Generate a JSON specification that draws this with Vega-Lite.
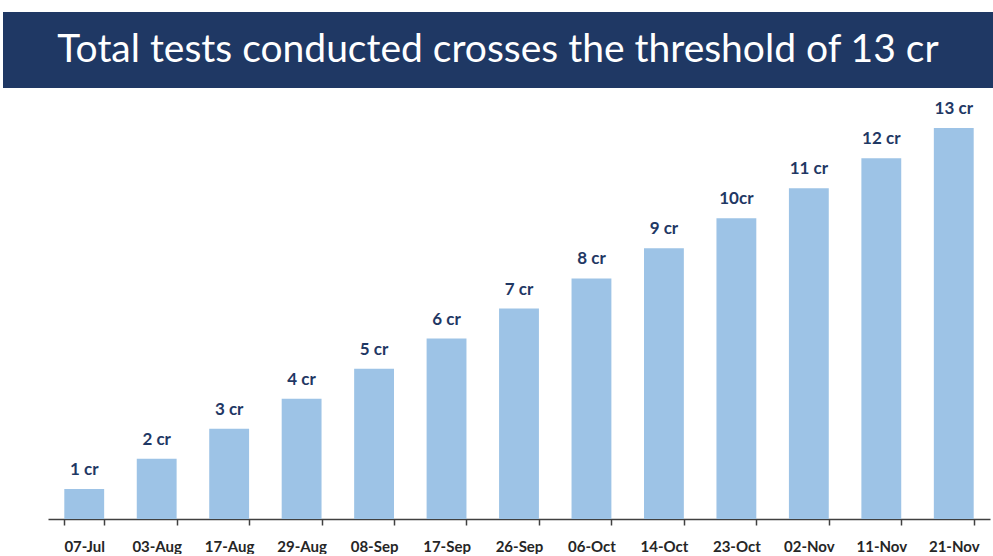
{
  "$schema": "https://vega.github.io/schema/vega-lite/v6.json",
  "padding": {"left": 3, "top": 12, "right": 0, "bottom": 0},
  "background": "white",
  "spacing": 10,
  "config": {"view": {"stroke": null}},
  "vconcat": [
    {
      "width": 990,
      "height": 76,
      "view": {"fill": "#1f3864", "stroke": null},
      "data": {"values": [{"title": "Total tests conducted crosses the threshold of 13 cr"}]},
      "mark": {"type": "text", "color": "white", "font": "Lato", "fontSize": 39},
      "encoding": {"text": {"field": "title", "type": "nominal"}}
    },
    {
      "width": 990,
      "height": 421,
      "data": {"values": [
        {"date": "07-Jul", "value": 1, "label": "1 cr"},
        {"date": "03-Aug", "value": 2, "label": "2 cr"},
        {"date": "17-Aug", "value": 3, "label": "3 cr"},
        {"date": "29-Aug", "value": 4, "label": "4 cr"},
        {"date": "08-Sep", "value": 5, "label": "5 cr"},
        {"date": "17-Sep", "value": 6, "label": "6 cr"},
        {"date": "26-Sep", "value": 7, "label": "7 cr"},
        {"date": "06-Oct", "value": 8, "label": "8 cr"},
        {"date": "14-Oct", "value": 9, "label": "9 cr"},
        {"date": "23-Oct", "value": 10, "label": "10cr"},
        {"date": "02-Nov", "value": 11, "label": "11 cr"},
        {"date": "11-Nov", "value": 12, "label": "12 cr"},
        {"date": "21-Nov", "value": 13, "label": "13 cr"}
      ]},
      "encoding": {
        "x": {
          "field": "date", "type": "nominal", "sort": null,
          "scale": {"paddingInner": 0.45, "paddingOuter": 0.225, "range": [45, 987]},
          "axis": {
            "title": null, "labelAngle": 0, "labelFont": "Lato", "labelFontWeight": "bold",
            "labelFontSize": 15, "labelColor": "#262626", "labelPadding": 14,
            "tickSize": 6, "tickColor": "#404040", "tickWidth": 1.5,
            "domainColor": "#404040", "domainWidth": 1.5, "tickBand": "extent", "grid": false
          }
        },
        "y": {
          "field": "value", "type": "quantitative",
          "scale": {"domain": [0, 14]},
          "axis": null
        }
      },
      "layer": [
        {"mark": {"type": "bar", "color": "#9dc3e6"}},
        {
          "mark": {"type": "text", "baseline": "bottom", "dy": -10, "font": "Lato",
                   "fontWeight": "bold", "fontSize": 17, "color": "#1f3864"},
          "encoding": {"text": {"field": "label", "type": "nominal"}}
        }
      ]
    }
  ]
}
